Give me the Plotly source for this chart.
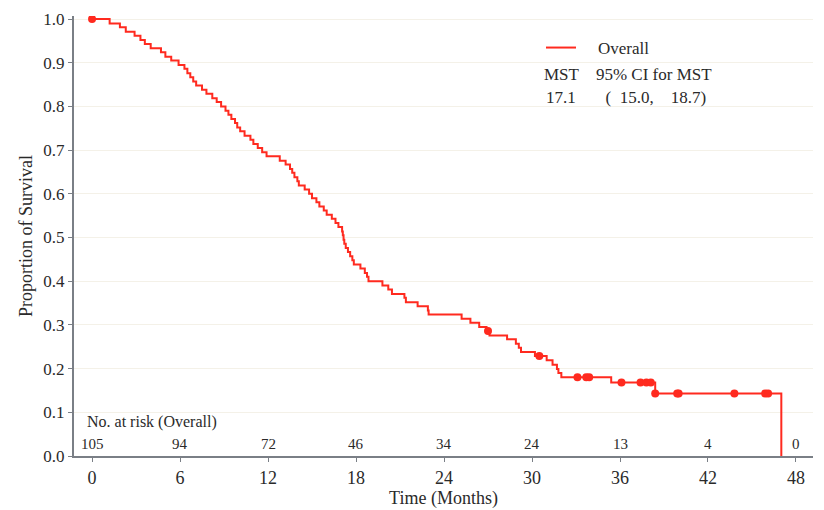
import plotly.graph_objects as go

# Kaplan-Meier step points (time in months, survival after step)
step_t = [0, 1.2, 1.9, 2.3, 2.9, 3.3, 3.6, 4.0, 4.7, 5.0, 5.4, 5.9, 6.3, 6.5, 6.7, 6.9,
          7.1, 7.5, 7.8, 8.2, 8.5, 8.8, 9.1, 9.3, 9.5, 9.75, 9.9, 10.1, 10.4, 10.8, 11.0,
          11.3, 11.6, 11.9, 12.8, 13.2, 13.5, 13.65, 13.8, 14.0, 14.1, 14.5, 14.8, 15.0,
          15.3, 15.5, 15.8, 16.0, 16.35, 16.6, 16.8, 17.05, 17.1, 17.15, 17.2, 17.3, 17.45,
          17.6, 17.75, 17.85, 18.3, 18.6, 18.75, 18.85, 19.8, 20.2, 20.45, 21.3, 21.4, 22.2,
          22.9, 22.95, 25.2, 25.8, 26.4, 26.9, 27.1, 28.3, 28.9, 29.1, 29.25, 30.2, 31.0,
          31.4, 31.7, 31.8, 32.0, 35.4, 38.4, 47.0]
step_s = [1.0, 0.990, 0.981, 0.971, 0.962, 0.952, 0.943, 0.933, 0.924, 0.914, 0.905, 0.895,
          0.886, 0.876, 0.867, 0.857, 0.848, 0.838, 0.829, 0.819, 0.810, 0.800, 0.790, 0.781,
          0.771, 0.762, 0.752, 0.743, 0.733, 0.724, 0.714, 0.705, 0.695, 0.686, 0.676, 0.667,
          0.657, 0.648, 0.638, 0.629, 0.619, 0.610, 0.600, 0.590, 0.581, 0.571, 0.562, 0.552,
          0.543, 0.533, 0.524, 0.514, 0.505, 0.495, 0.486, 0.476, 0.467, 0.457, 0.448, 0.438,
          0.429, 0.419, 0.410, 0.400, 0.390, 0.381, 0.371, 0.362, 0.352, 0.343, 0.333, 0.324,
          0.314, 0.305, 0.295, 0.286, 0.276, 0.267, 0.257, 0.248, 0.238, 0.229, 0.219, 0.209,
          0.199, 0.190, 0.180, 0.168, 0.143, 0.0]

# Censored observations
cens_t = [0, 27.0, 30.5, 33.1, 33.7, 33.9, 36.1, 37.4, 37.8, 38.1, 38.4, 39.9, 40.0, 43.8, 45.9, 46.1]
cens_s = [1.0, 0.286, 0.229, 0.180, 0.180, 0.180, 0.168, 0.168, 0.168, 0.168, 0.143, 0.143,
          0.143, 0.143, 0.143, 0.143]

# Number at risk
risk_t = [0, 6, 12, 18, 24, 30, 36, 42, 48]
risk_n = [105, 94, 72, 46, 34, 24, 13, 4, 0]

x_ticks = [0, 6, 12, 18, 24, 30, 36, 42, 48]
y_ticks = [0.0, 0.1, 0.2, 0.3, 0.4, 0.5, 0.6, 0.7, 0.8, 0.9, 1.0]

RED = "#ff2a1f"
TXT = "#2a2a2a"
FONT = "Liberation Serif"

W, H = 824, 510
OFF = 8  # page body margin
ml, mt = 74 - OFF, 16 - OFF
plot_right, plot_bottom = 813 - OFF, 456 - OFF
mr, mb = W - plot_right, H - plot_bottom
pw, ph = W - ml - mr, H - mt - mb
def pxs(xs):
    return (xs - OFF - ml) / pw
def pys(ys):
    return 1 - (ys - OFF - mt) / ph

fig = go.Figure()
fig.add_trace(go.Scatter(x=step_t, y=step_s, mode="lines", line=dict(color=RED, width=2, shape="hv"),
                         name="&nbsp;&nbsp;&nbsp;&nbsp;Overall", showlegend=True))
fig.add_trace(go.Scatter(x=cens_t, y=cens_s, mode="markers", marker=dict(color=RED, size=8),
                         showlegend=False))

ann = []
for t, n in zip(risk_t, risk_n):
    ann.append(dict(x=t, y=0.027, xref="x", yref="y", text=str(n), showarrow=False,
                    font=dict(family=FONT, size=15, color=TXT), xanchor="center", yanchor="middle"))
ann.append(dict(x=-0.5, y=0.078, xref="x", yref="y", text="No. at risk (Overall)", showarrow=False,
                font=dict(family=FONT, size=16, color=TXT), xanchor="left", yanchor="middle"))
ann.append(dict(x=pxs(542), y=pys(75), xref="paper", yref="paper",
                text="MST&nbsp;&nbsp;&nbsp;&nbsp;95% CI for MST", showarrow=False,
                font=dict(family=FONT, size=17, color=TXT), xanchor="left", yanchor="middle"))
ann.append(dict(x=pxs(544), y=pys(97), xref="paper", yref="paper",
                text="17.1&nbsp;&nbsp;&nbsp;&nbsp;&nbsp;&nbsp;&nbsp;(&nbsp;&nbsp;15.0,&nbsp;&nbsp;&nbsp;&nbsp;18.7)", showarrow=False,
                font=dict(family=FONT, size=17, color=TXT), xanchor="left", yanchor="middle"))

fig.update_layout(
    width=W, height=H,
    margin=dict(l=ml, r=mr, t=mt, b=mb, autoexpand=False),
    paper_bgcolor="white", plot_bgcolor="white",
    font=dict(family=FONT, color=TXT, size=16),
    annotations=ann,
    legend=dict(x=pxs(541), y=pys(30), xanchor="left", yanchor="top",
                bgcolor="rgba(0,0,0,0)", font=dict(family=FONT, size=17, color=TXT)),
    xaxis=dict(range=[-1.23, 49.16], tickvals=x_ticks, ticktext=[str(v) for v in x_ticks],
               automargin=False,
               showgrid=False, zeroline=False, showline=True, linecolor="#7a7f86", linewidth=2,
               ticks="outside", ticklen=4, tickcolor="#7a7f86",
               tickfont=dict(family=FONT, size=18, color=TXT),
               title=dict(text="Time (Months)", font=dict(family=FONT, size=18, color=TXT), standoff=1)),
    yaxis=dict(range=[0, 1.007], tickvals=y_ticks, ticktext=["%.1f" % v for v in y_ticks],
               automargin=False, ticklabeloverflow="allow",
               showgrid=True, gridcolor="#f4f1e8", gridwidth=1, zeroline=False,
               showline=True, linecolor="#7a7f86", linewidth=2,
               ticks="outside", ticklen=4, tickcolor="#7a7f86",
               tickfont=dict(family=FONT, size=17, color=TXT),
               title=dict(text="Proportion of Survival", font=dict(family=FONT, size=18, color=TXT), standoff=6)),
)

fig.write_html("out.html")
